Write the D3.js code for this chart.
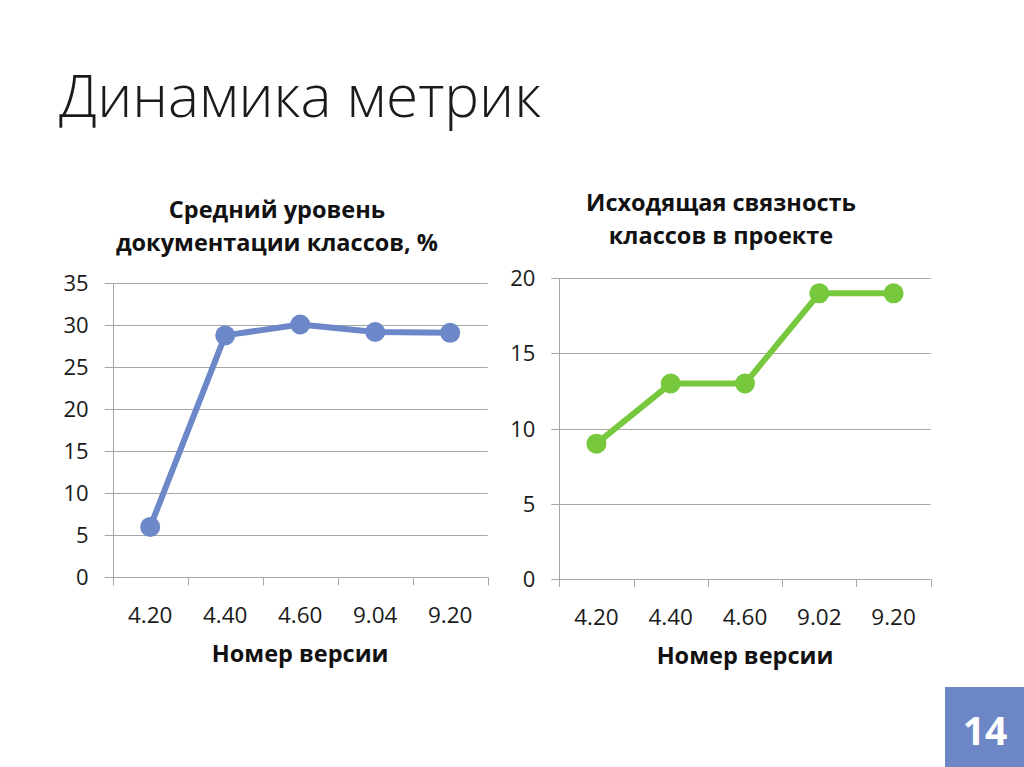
<!DOCTYPE html>
<html><head><meta charset="utf-8">
<script src="https://cdn.jsdelivr.net/npm/d3@7"></script>
<style>
html,body{margin:0;padding:0;background:#fff;}
svg{display:block;font-family:"Open Sans","Noto Sans",sans-serif;}
</style></head>
<body>
<svg id="c" width="1024" height="767"></svg>
<script>
const pageTitle = "Динамика метрик";
const pageNumber = "14";

const leftTitle = ["Средний уровень", "документации классов, %"];
const leftCategories = ["4.20", "4.40", "4.60", "9.04", "9.20"];
const leftValues = [6, 28.8, 30.1, 29.2, 29.1];
const leftTicks = [0, 5, 10, 15, 20, 25, 30, 35];

const rightTitle = ["Исходящая связность", "классов в проекте"];
const rightCategories = ["4.20", "4.40", "4.60", "9.02", "9.20"];
const rightValues = [9, 13, 13, 19, 19];
const rightTicks = [0, 5, 10, 15, 20];

const xAxisTitle = "Номер версии";

const svg = d3.select("#c");

svg.append("text").attr("x", 59).attr("y", 117)
  .attr("font-size", 59).attr("font-weight", 300).attr("fill", "#1a1a1a")
  .attr("textLength", 482).attr("lengthAdjust", "spacingAndGlyphs")
  .text(pageTitle);

svg.append("rect").attr("x", 945).attr("y", 687).attr("width", 79).attr("height", 80).attr("fill", "#6d86c6");
svg.append("text").attr("x", 985).attr("y", 745).attr("text-anchor", "middle")
  .attr("font-size", 39).attr("font-weight", 700).attr("fill", "#fff").text(pageNumber);

function chart(o) {
  const g = svg.append("g");
  const x = d3.scaleBand().domain(o.categories).range([o.x0, o.x1]);
  const y = d3.scaleLinear().domain([0, o.max]).range([o.y0, o.y1]);

  g.append("g").selectAll("line").data(o.ticks).join("line")
    .attr("x1", o.x0 - 8).attr("x2", o.x1)
    .attr("y1", d => Math.round(y(d)) + 0.5).attr("y2", d => Math.round(y(d)) + 0.5)
    .attr("stroke", "#a6a6a6").attr("stroke-width", 1);

  g.append("line").attr("x1", Math.round(o.x0) + 0.5).attr("x2", Math.round(o.x0) + 0.5)
    .attr("y1", o.y1).attr("y2", o.y0 + 8).attr("stroke", "#a6a6a6");
  const edges = o.categories.map(c => x(c)).concat([o.x1]);
  g.append("g").selectAll("line").data(edges).join("line")
    .attr("x1", d => Math.round(d) + 0.5).attr("x2", d => Math.round(d) + 0.5)
    .attr("y1", o.y0).attr("y2", o.y0 + 8).attr("stroke", "#a6a6a6");

  g.append("g").selectAll("text").data(o.ticks).join("text")
    .attr("x", o.x0 - 24).attr("y", d => y(d) + 8)
    .attr("text-anchor", "end").attr("font-size", 22).attr("fill", "#1a1a1a")
    .text(d => d);

  g.append("g").selectAll("text").data(o.categories).join("text")
    .attr("x", d => x(d) + x.bandwidth() / 2).attr("y", o.y0 + 46)
    .attr("text-anchor", "middle").attr("font-size", 22.5).attr("fill", "#1a1a1a")
    .text(d => d);

  g.append("text").attr("x", (o.x0 + o.x1) / 2).attr("y", o.y0 + 85)
    .attr("text-anchor", "middle").attr("font-size", 23.5).attr("font-weight", 700).attr("fill", "#111")
    .text(xAxisTitle);

  g.append("g").selectAll("text").data(o.title).join("text")
    .attr("x", o.tx).attr("y", (d, i) => o.ty + i * 33)
    .attr("text-anchor", "middle").attr("font-size", 23.5).attr("font-weight", 700).attr("fill", "#111")
    .text(d => d);

  const pts = o.categories.map((c, i) => [x(c) + x.bandwidth() / 2, y(o.values[i])]);
  g.append("path").attr("d", d3.line()(pts)).attr("fill", "none")
    .attr("stroke", o.color).attr("stroke-width", 6).attr("stroke-linejoin", "round");
  g.append("g").selectAll("circle").data(pts).join("circle")
    .attr("cx", d => d[0]).attr("cy", d => d[1]).attr("r", 10).attr("fill", o.color);
}

chart({categories: leftCategories, values: leftValues, ticks: leftTicks, max: 35,
  x0: 112.7, x1: 487.7, y0: 577.3, y1: 283.3, color: "#6d88c8",
  title: leftTitle, tx: 277, ty: 218});

chart({categories: rightCategories, values: rightValues, ticks: rightTicks, max: 20,
  x0: 559.3, x1: 930.7, y0: 579, y1: 278.3, color: "#77c83d",
  title: rightTitle, tx: 721, ty: 211});
</script>
</body></html>
